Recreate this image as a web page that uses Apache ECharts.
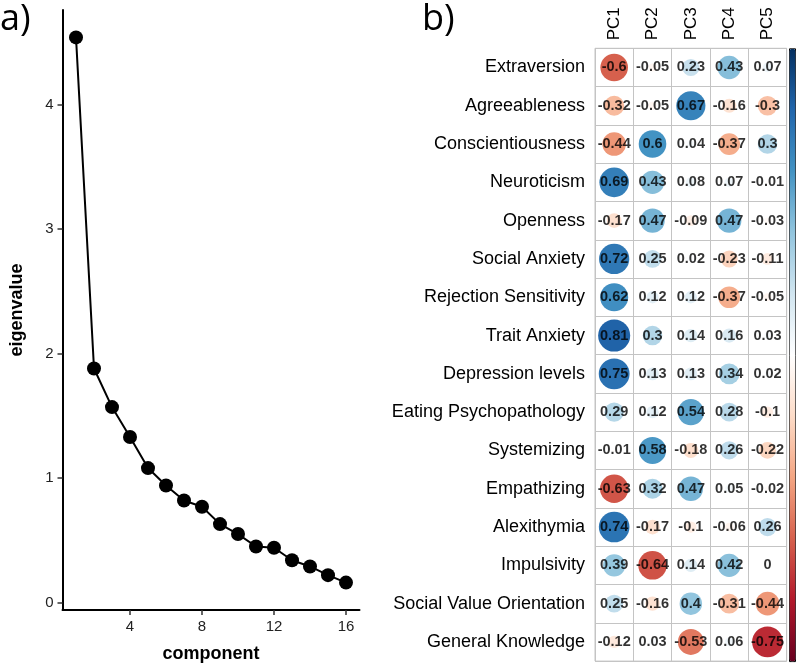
<!DOCTYPE html>
<html>
<head>
<meta charset="utf-8">
<script src="https://cdn.jsdelivr.net/npm/echarts@6/dist/echarts.min.js"></script>
<style>html,body{margin:0;padding:0;background:#fff}#c{width:800px;height:668px}</style>
</head>
<body>
<div id="c"></div>
<script>
const components = [1,2,3,4,5,6,7,8,9,10,11,12,13,14,15,16];
const eigenvalues = [4.54,1.88,1.57,1.33,1.08,0.94,0.82,0.77,0.63,0.55,0.45,0.44,0.34,0.29,0.22,0.16];
const xTicks = [4,8,12,16];
const yTicks = [0,1,2,3,4];

const variables = ['Extraversion','Agreeableness','Conscientiousness','Neuroticism','Openness','Social Anxiety','Rejection Sensitivity','Trait Anxiety','Depression levels','Eating Psychopathology','Systemizing','Empathizing','Alexithymia','Impulsivity','Social Value Orientation','General Knowledge'];
const pcs = ['PC1','PC2','PC3','PC4','PC5'];
const PC1 = [-0.6,-0.32,-0.44,0.69,-0.17,0.72,0.62,0.81,0.75,0.29,-0.01,-0.63,0.74,0.39,0.25,-0.12];
const PC2 = [-0.05,-0.05,0.6,0.43,0.47,0.25,0.12,0.3,0.13,0.12,0.58,0.32,-0.17,-0.64,-0.16,0.03];
const PC3 = [0.23,0.67,0.04,0.08,-0.09,0.02,0.12,0.14,0.13,0.54,-0.18,0.47,-0.1,0.14,0.4,-0.53];
const PC4 = [0.43,-0.16,-0.37,0.07,0.47,-0.23,-0.37,0.16,0.34,0.28,0.26,0.05,-0.06,0.42,-0.31,0.06];
const PC5 = [0.07,-0.3,0.3,-0.01,-0.03,-0.11,-0.05,0.03,0.02,-0.1,-0.22,-0.02,0.26,0,-0.44,-0.75];
const loadings = [PC1,PC2,PC3,PC4,PC5];

const palette = ['#67001F','#B2182B','#D6604D','#F4A582','#FDDBC7','#FFFFFF','#D1E5F0','#92C5DE','#4393C3','#2166AC','#053061'];

const cells = [];
loadings.forEach((col, ci) => col.forEach((v, ri) => cells.push([ci, ri, v])));

const FF = '"Liberation Sans", Arial, Helvetica, sans-serif';
const chart = echarts.init(document.getElementById('c'));
const CELL = 38.3;
chart.setOption({
  backgroundColor: '#fff',
  animation: false,
  textStyle: {fontFamily: FF},
  graphic: [
    {type: 'text', left: 0, top: 2, style: {text: 'a)', font: '36px "Open Sans", sans-serif', fill: '#000'}},
    {type: 'text', left: 422, top: 2, style: {text: 'b)', font: '36px "Open Sans", sans-serif', fill: '#000'}}
  ],
  grid: [
    {left: 62.5, right: 440.5, top: 10, bottom: 53},
    {left: 595, top: 48.3, width: 191.7, height: CELL * 16, show: true, borderColor: '#C4C4C4', borderWidth: 1}
  ],
  xAxis: [
    {
      type: 'value', gridIndex: 0, min: 0.25, max: 16.75,
      name: 'component', nameLocation: 'middle', nameGap: 35,
      nameTextStyle: {fontFamily: FF, fontWeight: 'bold', fontSize: 18, color: '#000'},
      axisLine: {show: true, onZero: false, lineStyle: {color: '#000', width: 2}},
      axisTick: {show: true, length: 5, customValues: xTicks, lineStyle: {color: '#333', width: 1.5}},
      axisLabel: {customValues: xTicks, fontFamily: FF, fontSize: 15, color: '#222', margin: 9},
      splitLine: {show: false}
    },
    {
      type: 'category', gridIndex: 1, data: pcs, position: 'top',
      axisLine: {show: false}, axisTick: {show: false},
      axisLabel: {rotate: -90, fontFamily: FF, fontSize: 17, color: '#000', margin: 8},
      splitLine: {show: true, lineStyle: {color: '#C4C4C4', width: 1}}
    }
  ],
  yAxis: [
    {
      type: 'value', gridIndex: 0, min: -0.06, max: 4.76,
      name: 'eigenvalue', nameLocation: 'middle', nameGap: 36, nameRotate: 90,
      nameTextStyle: {fontFamily: FF, fontWeight: 'bold', fontSize: 18, color: '#000'},
      axisLine: {show: true, onZero: false, lineStyle: {color: '#000', width: 2}},
      axisTick: {show: true, length: 5, customValues: yTicks, lineStyle: {color: '#333', width: 1.5}},
      axisLabel: {customValues: yTicks, fontFamily: FF, fontSize: 15, color: '#222', margin: 9},
      splitLine: {show: false}
    },
    {
      type: 'category', gridIndex: 1, data: variables, inverse: true,
      axisLine: {show: false}, axisTick: {show: false},
      axisLabel: {fontFamily: FF, fontSize: 18, color: '#000', margin: 10},
      splitLine: {show: true, lineStyle: {color: '#C4C4C4', width: 1}}
    }
  ],
  visualMap: {
    type: 'continuous', min: -1, max: 1, dimension: 2, seriesIndex: 0,
    calculable: false, hoverLink: false, text: null,
    orient: 'vertical', left: 789, top: 48.3, itemWidth: 6, itemHeight: CELL * 16,
    padding: 0, borderColor: '#000', borderWidth: 1,
    inRange: {color: palette}
  },
  series: [
    {
      type: 'scatter', xAxisIndex: 1, yAxisIndex: 1, data: cells,
      symbol: 'circle',
      symbolSize: d => 0.93 * Math.sqrt(Math.abs(d[2])) * CELL,
      itemStyle: {opacity: 1},
      silent: true, z: 2
    },
    {
      type: 'scatter', xAxisIndex: 1, yAxisIndex: 1, data: cells,
      symbolSize: 1, itemStyle: {color: 'rgba(0,0,0,0)'},
      label: {show: true, position: 'inside', formatter: p => String(p.value[2]),
        fontFamily: FF, fontWeight: 'bold', fontSize: 14.5, color: '#000',
        textBorderWidth: 0, textBorderColor: 'transparent', textShadowBlur: 0},
      silent: true, z: 3
    },
    {
      type: 'line', xAxisIndex: 0, yAxisIndex: 0,
      data: components.map((c, i) => [c, eigenvalues[i]]),
      symbol: 'circle', symbolSize: 14, showAllSymbol: true,
      lineStyle: {color: '#000', width: 2},
      itemStyle: {color: '#000'}
    }
  ]
});
</script>
</body>
</html>
